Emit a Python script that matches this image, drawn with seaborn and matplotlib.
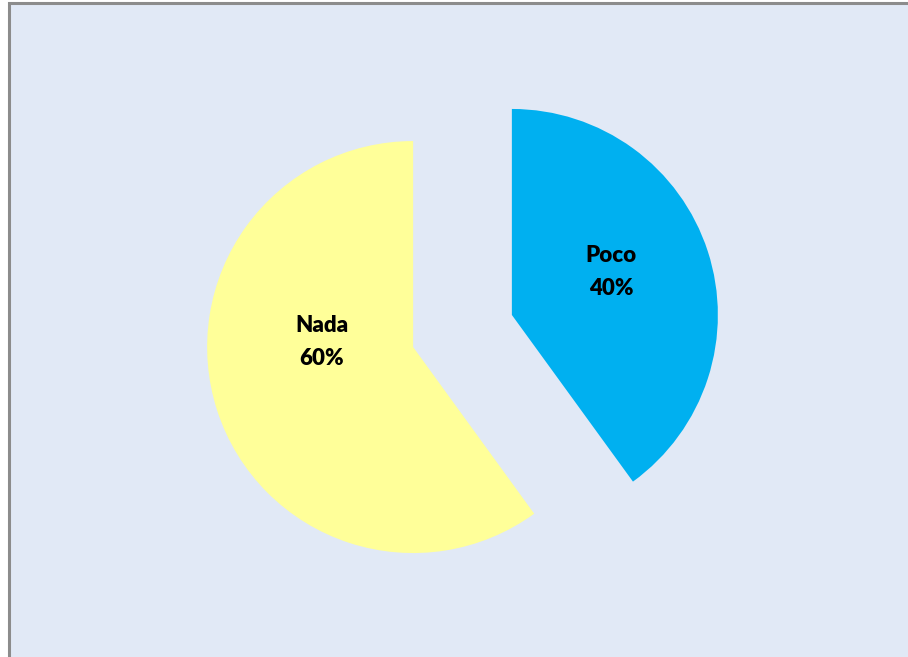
import matplotlib
matplotlib.use("Agg")
import matplotlib.pyplot as plt
import seaborn as sns
from matplotlib.patches import Rectangle

sns.set_theme(style="white")
plt.rcParams["font.family"] = ["Lato", "DejaVu Sans"]

categories = ["Poco", "Nada"]
values = [40, 60]
colors = ["#00B0F0", "#FFFF99"]
explode = [0.252, 0.252]   # as a fraction of the radius

W, H = 908, 657
bg = "#E1E9F6"
radius = 206

fig = plt.figure(figsize=(W / 100, H / 100), dpi=100)
fig.patch.set_facecolor("white")

ax = fig.add_axes([0, 0, 1, 1])

# chart area with grey frame (runs past right and bottom edges)
ax.add_patch(Rectangle((8.5, -20), W + 40, H - 2.5 + 20, facecolor=bg,
                       edgecolor="#8C8C8C", linewidth=2.2, zorder=0,
                       clip_on=False))

# matplotlib's explode offset is in data units, so scale it by the radius
wedges, _ = ax.pie(values, colors=colors,
                   explode=[e * radius for e in explode], startangle=90,
                   counterclock=False, center=(462.5, H - 331), radius=radius,
                   wedgeprops=dict(linewidth=0, zorder=2), frame=True)
ax.set_xlim(0, W)
ax.set_ylim(0, H)
ax.set_aspect("equal")
ax.axis("off")

label_pos = [(611, H - 272), (322, H - 342)]
for (x, y), cat, v in zip(label_pos, categories, values):
    ax.text(x, y, f"{cat}\n{v}%", ha="center", va="center", fontsize=16,
            fontweight="heavy", color="black", linespacing=1.7, zorder=3)

fig.savefig("out.png", dpi=100, facecolor=fig.get_facecolor())
